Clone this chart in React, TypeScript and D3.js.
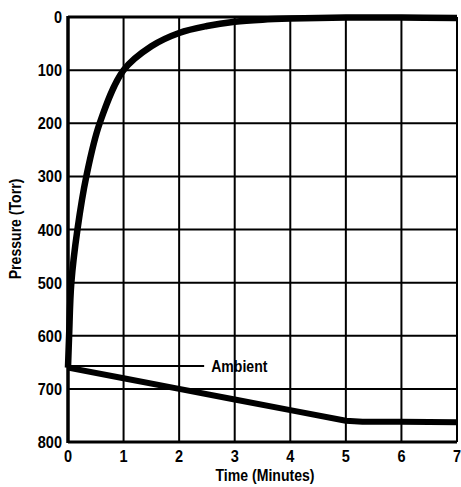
import React from "react";
import * as d3 from "d3";

const xTicks = [0, 1, 2, 3, 4, 5, 6, 7];
const yTicks = [0, 100, 200, 300, 400, 500, 600, 700, 800];

const pumpTime = [0, 0.02, 0.06, 0.17, 0.33, 0.57, 1.0, 1.5, 2, 2.5, 3, 3.5, 4, 5, 6, 7];
const pumpPressure = [660, 600, 500, 400, 300, 200, 100, 55, 30, 17, 9, 5, 3, 1, 1, 2];

const ambientTime = [0, 1, 2, 3, 4, 5, 5.3, 6, 7];
const ambientPressure = [660, 680, 700, 720, 740, 760, 762, 762, 763];

const leaderPressure = 657;
const leaderEnd = 2.45;
const ambientLabel = "Ambient";

const W = 461;
const H = 487;
const M = { left: 68, right: 457, top: 17, bottom: 442 };
const FONT = "'Liberation Sans', Arial, sans-serif";
const SX = 0.88;

function T({ x, y, anchor, size, rotate, children }: any) {
  const tr = `translate(${x},${y})${rotate ? ` rotate(${rotate})` : ""} scale(${SX},1)`;
  return (
    <text transform={tr} textAnchor={anchor || "start"} fontFamily={FONT} fontWeight="bold" fontSize={size}>
      {children}
    </text>
  );
}

export default function App() {
  const x = d3.scaleLinear().domain([0, 7]).range([M.left, M.right]);
  const y = d3.scaleLinear().domain([0, 800]).range([M.top, M.bottom]);

  const line = d3
    .line<[number, number]>()
    .x((d) => x(d[0]))
    .y((d) => y(d[1]))
    .curve(d3.curveCatmullRom.alpha(0.5));

  const pump = pumpTime.map((t, i) => [t, pumpPressure[i]] as [number, number]);
  const amb = ambientTime.map((t, i) => [t, ambientPressure[i]] as [number, number]);
  const ambLine = d3
    .line<[number, number]>()
    .x((d) => x(d[0]))
    .y((d) => y(d[1]));

  return (
    <svg width={W} height={H} style={{ position: "absolute", left: 0, top: 0, background: "#fff" }}>
      <rect width={W} height={H} fill="#fff" />
      {xTicks.map((t) => (
        <line key={"gx" + t} x1={x(t)} x2={x(t)} y1={y(0)} y2={y(800)} stroke="#000" strokeWidth={2} />
      ))}
      {yTicks.map((t) => (
        <line key={"gy" + t} x1={x(0)} x2={x(7)} y1={y(t)} y2={y(t)} stroke="#000" strokeWidth={2} />
      ))}
      <line x1={x(0)} x2={x(0)} y1={y(0) - 1} y2={y(800) + 1} stroke="#000" strokeWidth={3.5} />
      <line x1={x(0)} x2={x(7)} y1={y(0)} y2={y(0)} stroke="#000" strokeWidth={3} />
      <line x1={x(0)} x2={x(7)} y1={y(800)} y2={y(800)} stroke="#000" strokeWidth={3} />
      <path d={line(pump) || ""} fill="none" stroke="#000" strokeWidth={6.5} strokeLinejoin="round" />
      <path d={ambLine(amb) || ""} fill="none" stroke="#000" strokeWidth={6} strokeLinejoin="round" />
      <line x1={x(0)} x2={x(leaderEnd)} y1={y(leaderPressure)} y2={y(leaderPressure)} stroke="#000" strokeWidth={2} />
      <T x={x(leaderEnd) + 7} y={y(leaderPressure) + 6} size={16}>
        {ambientLabel}
      </T>
      {yTicks.map((t) => (
        <T key={"ly" + t} x={62} y={y(t) + 6} anchor="end" size={16.5}>
          {t}
        </T>
      ))}
      {xTicks.map((t) => (
        <T key={"lx" + t} x={x(t)} y={462} anchor="middle" size={16.5}>
          {t}
        </T>
      ))}
      <T x={265} y={481} anchor="middle" size={16}>
        Time (Minutes)
      </T>
      <T x={21} y={229} anchor="middle" size={16} rotate={-90}>
        Pressure (Torr)
      </T>
    </svg>
  );
}
